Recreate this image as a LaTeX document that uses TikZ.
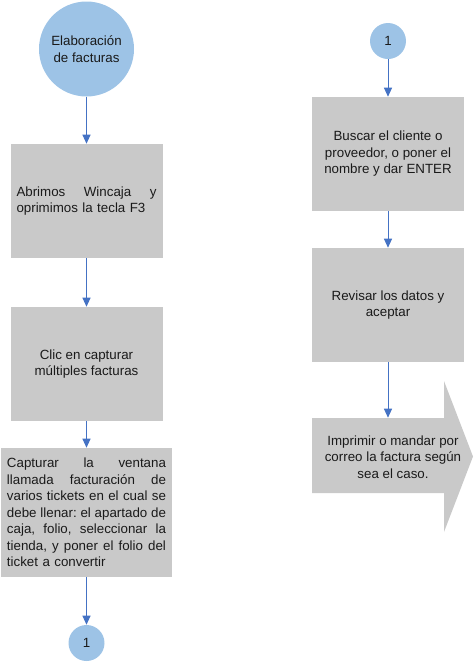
\documentclass[tikz,border=0pt]{standalone}
\usepackage{fontspec}
\setmainfont{Liberation Sans}
\usetikzlibrary{arrows.meta}
\definecolor{cfill}{HTML}{9DC3E6}
\definecolor{bfill}{HTML}{C9C9C9}
\definecolor{lblue}{HTML}{4472C4}
\definecolor{tcol}{HTML}{1A1A1A}
\newcommand\jline[2]{\leavevmode\hbox to #1{#2}}
\begin{document}
\begin{tikzpicture}[x=0.75pt,y=-0.75pt,
  every node/.style={font=\fontsize{10}{12.4}\selectfont, text=tcol},
  bubble/.style={circle, fill=cfill, inner sep=0pt, align=center},
  stepbox/.style={rectangle, fill=bfill, inner sep=0pt, minimum width=114pt, minimum height=85.5pt, align=center},
  conn/.style={draw=lblue, line width=0.75pt, -{Triangle[width=6pt,length=6.75pt]}}
]
\useasboundingbox (0,0) rectangle (474,662);
% left column
\node[bubble, minimum size=71.25pt] (c1) at (86.5,49) {Elaboración\\de facturas};
\node[stepbox, text width=105pt, align=left] (b1) at (86.5,201)
  {\jline{105pt}{Abrimos\hfill Wincaja\hfill y}\\oprimimos la tecla F3};
\node[stepbox] (b2) at (86.5,364) {Clic en capturar\\múltiples facturas};
\node[stepbox, minimum width=128.25pt, minimum height=96.75pt, text width=119.25pt, align=left] (b3) at (86.5,512.5)
  {\jline{119.25pt}{Capturar\hfill la\hfill ventana}\\
   \jline{119.25pt}{llamada\hfill facturación\hfill de}\\
   \jline{119.25pt}{varios\hfill tickets\hfill en\hfill el\hfill cual\hfill se}\\
   \jline{119.25pt}{debe\hfill llenar:\hfill el\hfill apartado\hfill de}\\
   \jline{119.25pt}{caja,\hfill folio,\hfill seleccionar\hfill la}\\
   \jline{119.25pt}{tienda,\hfill y\hfill poner\hfill el\hfill folio\hfill del}\\
   ticket a convertir};
\node[bubble, minimum size=27pt] (c2) at (86.5,643) {1};
% right column
\node[bubble, minimum size=27pt] (c3) at (388,41) {1};
\node[stepbox] (b4) at (388,154) {Buscar el cliente o\\proveedor, o poner el\\nombre y dar ENTER};
\node[stepbox] (b5) at (388,305) {Revisar los datos y\\aceptar};
\fill[bfill] (312,418) -- (444,418) -- (444,381) -- (473,456.5) -- (444,532) -- (444,493) -- (312,493) -- cycle;
\node[inner sep=0pt, minimum width=99pt, minimum height=56.25pt] (s6) at (378,455.5) {};
\node[align=center, inner sep=0pt] (t6) at (393,457) {Imprimir o mandar por\\correo la factura según\\sea el caso.};
% connectors
\draw[conn] (c1) -- (b1);
\draw[conn] (b1) -- (b2);
\draw[conn] (b2) -- (b3);
\draw[conn] (b3) -- (c2);
\draw[conn] (c3) -- (b4);
\draw[conn] (b4) -- (b5);
\draw[conn] (b5.south) -- (b5.south |- s6.north);
\end{tikzpicture}
\end{document}
